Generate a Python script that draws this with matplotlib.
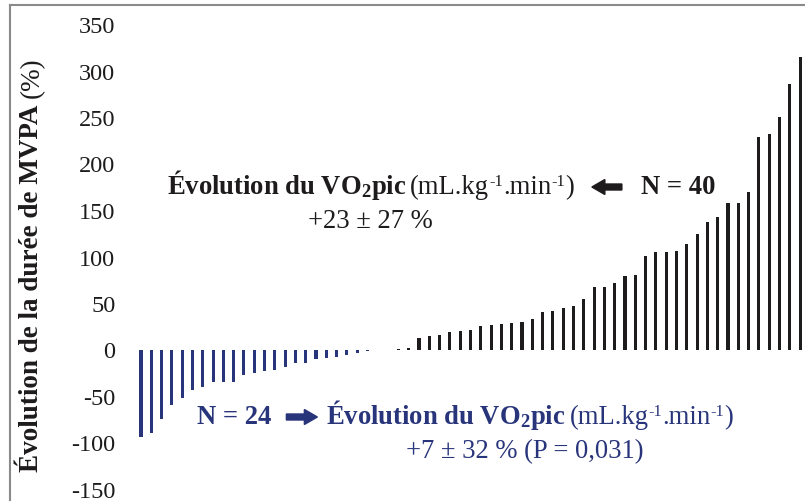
import numpy as np
import matplotlib
matplotlib.use('Agg')
import matplotlib.pyplot as plt
from matplotlib.patches import FancyArrow
from matplotlib.lines import Line2D
from matplotlib.transforms import IdentityTransform

plt.rcParams['font.family'] = ['Liberation Serif', 'DejaVu Serif']
plt.rcParams['mathtext.fontset'] = 'custom'
plt.rcParams['mathtext.rm'] = 'Liberation Serif'
plt.rcParams['mathtext.default'] = 'regular'

# change in MVPA duration (%), sorted, one bar per participant
decrease = [-94, -90, -75, -60, -52, -44, -40, -35, -35, -35, -27, -25,
            -23, -22, -19, -14, -14, -10, -9.5, -8.5, -6, -4, -2, -1]
no_change = [0.0]
increase = [0.7, 1.4, 12.5, 15, 16, 18.5, 19.5, 21.5, 25, 26, 27, 28, 30,
            33, 40, 41, 45, 47, 54, 67, 67, 72, 79.5, 80.5, 101, 104.5,
            104.5, 105.5, 113, 124, 137, 143, 157, 158, 169, 229, 232,
            249.5, 285, 315]
y_ticks = [-150, -100, -50, 0, 50, 100, 150, 200, 250, 300, 350]

BLUE = '#28357a'
BLACK = '#1e1b1c'

W, H = 805, 502
fig = plt.figure(figsize=(W / 100, H / 100), dpi=100)
ax = fig.add_axes([125 / W, 12 / H, 680 / W, 465 / H])

values = np.array(decrease + no_change + increase)
colors = [BLUE] * len(decrease) + [BLACK] * (len(no_change) + len(increase))
x = np.arange(len(values))
ax.bar(x, values, width=0.3, color=colors)

ax.set_xlim(-1.55, len(values) - 1 + 0.48)
ax.set_ylim(-150, 350)
ax.set_yticks(y_ticks)
ax.set_yticklabels([str(t) for t in y_ticks], fontsize=17.5, color=BLACK)
ax.set_xticks([])
ax.tick_params(axis='y', length=0, pad=7)
for s in ax.spines.values():
    s.set_visible(False)

px = IdentityTransform()
r = fig.canvas.get_renderer()


def rich_line(x0, y0, parts, color, size):
    # parts: (text, weight, gap before px, size scale, rise px); y0 = baseline from top
    xx = x0
    for s, weight, gap, scale, rise in parts:
        xx += gap
        t = fig.text(xx, H - y0 + rise, s, transform=px, fontsize=size * scale,
                     fontweight=weight, color=color, ha='left', va='baseline')
        xx += t.get_window_extent(r).width
    return xx


def centered(xa, xb, y0, s, color, size):
    fig.text((xa + xb) / 2, H - y0, s, transform=px, fontsize=size,
             color=color, ha='center', va='baseline')


def vo2_parts():
    return [("Évolution du VO$_2$pic", 'bold', 0, 1, 0),
            ("(mL.kg", 'normal', 4, 1, 0),
            ("-1", 'normal', 0, 0.62, 8),
            (".min", 'normal', 0, 1, 0),
            ("-1", 'normal', 0, 0.62, 8),
            (")", 'normal', 0, 1, 0)]


def arrow(x0, x1, y0, color):
    fig.add_artist(FancyArrow(x0, H - y0, x1 - x0, 0, width=6, head_width=15,
                              head_length=13, length_includes_head=True,
                              color=color, transform=px))


FS = 19.2
# top annotation (increase group)
end = rich_line(167, 194, vo2_parts(), BLACK, FS)
arrow(end + 48, end + 18, 188, BLACK)
rich_line(end + 67, 194, [("N = 40", 'bold', 0, 1, 0)], BLACK, FS)
centered(167, end, 228, "+23 ± 27 %", BLACK, FS)

# bottom annotation (decrease group)
end = rich_line(197, 424, [("N = 24", 'bold', 0, 1, 0)], BLUE, FS)
arrow(end + 15, end + 46, 418, BLUE)
start = end + 55
end = rich_line(start, 424, vo2_parts(), BLUE, FS)
centered(start - 10, end, 458, "+7 ± 32 % (P = 0,031)", BLUE, FS)

# y label: bold part then regular "(%)"
t = fig.text(32, H - 472, "Évolution de la durée de MVPA", transform=px,
             rotation=90, rotation_mode='anchor', ha='left', va='center',
             fontsize=19.5, fontweight='bold', color=BLACK)
h = t.get_window_extent(r).height
fig.text(32, H - 472 + h + 6, "(%)", transform=px, rotation=90,
         rotation_mode='anchor', ha='left', va='center', fontsize=19.5,
         color=BLACK)

# outer frame
fig.add_artist(Line2D([9.5, 9.5], [0, H - 6], color='#8a8a8a', lw=1.5, transform=px))
fig.add_artist(Line2D([9.5, W], [H - 6, H - 6], color='#8a8a8a', lw=1.5, transform=px))

fig.savefig('out.png', dpi=100)
